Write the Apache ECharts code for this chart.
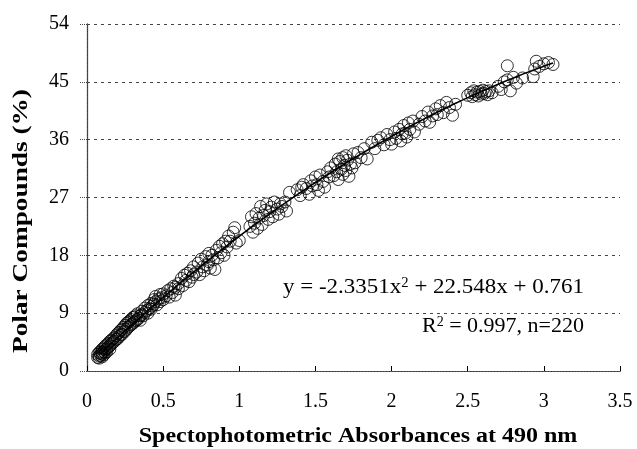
<!DOCTYPE html>
<html><head><meta charset="utf-8">
<script src="https://cdn.jsdelivr.net/npm/echarts@6/dist/echarts.min.js"></script>
<style>html,body{margin:0;padding:0;background:#fff}#c{width:637px;height:449px}</style>
</head><body><div id="c"></div>
<script>
const xTicks = [0, 0.5, 1, 1.5, 2, 2.5, 3, 3.5];
const yTicks = [0, 9, 18, 27, 36, 45, 54];
const xTitle = 'Spectophotometric Absorbances at 490 nm';
const yTitle = 'Polar Compounds (%)';
const eqParts = ['y = -2.3351x', '2', ' + 22.548x + 0.761'];
const r2Parts = ['R', '2', ' = 0.997, n=220'];

// observed samples [absorbance, polar compounds %]
const samples = [
[0.07,2.1],[0.07,2.6],[0.08,2.3],[0.08,2.9],[0.08,2.0],[0.09,2.4],[0.09,3.1],[0.09,2.7],[0.10,2.2],[0.10,2.9],
[0.10,3.4],[0.10,2.6],[0.11,3.0],[0.11,3.6],[0.11,2.5],[0.12,3.3],[0.12,2.8],[0.12,3.9],[0.13,3.5],[0.13,4.1],
[0.13,3.0],[0.14,3.7],[0.14,4.3],[0.15,3.9],[0.15,4.6],[0.15,3.4],[0.16,4.2],[0.16,4.8],[0.17,4.4],[0.17,5.0],
[0.18,4.6],[0.18,5.2],[0.19,4.9],[0.19,5.5],[0.20,5.0],[0.20,5.8],[0.21,5.3],[0.21,6.0],[0.22,5.6],[0.22,6.3],
[0.23,5.7],[0.23,6.5],[0.24,6.1],[0.24,6.8],[0.25,6.2],[0.25,7.1],[0.26,6.5],[0.26,7.4],[0.27,6.8],[0.27,7.6],
[0.28,7.0],[0.28,7.8],[0.29,7.2],[0.29,8.0],[0.30,7.4],[0.30,8.3],[0.31,7.6],[0.31,8.4],[0.32,7.8],[0.32,8.6],
[0.33,8.0],[0.33,8.9],[0.34,8.2],[0.35,8.6],[0.35,7.9],[0.36,8.8],[0.36,9.3],[0.37,8.6],[0.38,9.1],[0.38,9.8],
[0.39,9.4],[0.40,9.0],[0.40,10.2],[0.41,9.7],[0.42,10.5],[0.42,9.6],[0.43,10.1],[0.44,11.1],[0.44,10.4],[0.45,10.8],
[0.45,11.6],[0.46,10.3],[0.47,11.2],[0.48,11.9],[0.48,10.8],[0.49,11.4],[0.50,12.0],[0.50,11.1],
[0.52,11.7],[0.53,12.5],[0.54,11.5],[0.55,12.8],[0.56,12.2],[0.57,13.2],[0.58,11.8],[0.58,13.0],[0.60,13.6],[0.60,12.8],
[0.62,14.4],[0.63,13.3],[0.64,14.9],[0.65,14.1],[0.66,15.2],[0.67,13.9],[0.68,15.6],[0.69,14.6],[0.70,16.2],[0.70,15.0],
[0.72,15.4],[0.73,16.8],[0.74,15.0],[0.75,17.4],[0.76,16.2],[0.77,15.6],[0.78,17.8],[0.79,16.5],[0.80,18.3],[0.80,17.0],
[0.81,16.0],[0.82,18.0],[0.83,17.3],[0.84,15.8],[0.85,18.8],[0.86,17.6],[0.87,19.4],[0.88,18.4],[0.89,19.8],[0.90,18.0],
[0.91,20.2],[0.92,19.3],[0.93,21.0],[0.94,20.2],[0.96,21.6],[0.97,22.3],[0.98,19.9],[1.00,20.3],
[1.07,22.5],[1.08,24.0],[1.09,21.6],[1.10,23.0],[1.11,24.5],[1.12,22.2],[1.13,23.8],[1.14,25.6],[1.15,22.8],[1.16,24.2],
[1.17,25.0],[1.18,26.0],[1.19,23.6],[1.20,24.8],[1.21,25.5],[1.22,24.0],[1.23,26.3],[1.25,25.2],[1.26,24.4],[1.27,26.0],
[1.28,25.6],[1.30,26.3],[1.31,24.9],[1.33,27.8],
[1.38,28.2],[1.40,27.3],[1.41,28.6],[1.42,29.0],[1.44,28.4],[1.46,27.5],[1.47,29.6],[1.48,28.8],[1.50,30.2],[1.51,29.0],
[1.52,28.1],[1.53,30.5],[1.55,29.5],[1.56,28.6],[1.58,31.0],[1.59,30.2],[1.60,31.6],
[1.62,30.4],[1.63,32.2],[1.64,31.0],[1.65,33.0],[1.65,29.8],[1.66,32.6],[1.67,31.4],[1.68,33.2],[1.68,30.6],[1.69,32.0],
[1.70,33.5],[1.70,31.2],[1.71,32.8],[1.72,30.3],[1.73,32.2],[1.74,31.6],[1.75,33.8],[1.76,32.4],[1.78,34.0],[1.80,33.2],
[1.82,34.6],[1.84,33.0],
[1.87,35.6],[1.89,34.6],[1.91,35.9],[1.93,36.3],[1.95,35.2],[1.97,36.8],[1.99,36.0],[2.00,35.3],[2.02,37.2],[2.03,36.2],
[2.05,37.6],[2.06,35.8],[2.07,36.9],[2.08,38.2],[2.09,37.0],[2.10,36.4],[2.11,38.6],[2.12,37.6],[2.14,38.9],[2.15,37.2],
[2.18,38.4],[2.20,39.6],[2.22,38.9],[2.24,40.3],[2.25,38.7],[2.27,39.7],[2.29,40.8],[2.30,39.9],[2.32,41.3],[2.34,40.2],
[2.36,41.8],[2.38,41.0],[2.40,39.8],[2.42,41.5],
[2.50,42.9],[2.52,43.3],[2.53,42.7],[2.54,43.6],[2.55,43.0],[2.56,43.4],[2.57,42.8],[2.58,43.5],[2.59,43.1],[2.60,43.7],
[2.61,43.2],[2.62,43.5],[2.63,43.0],[2.64,43.6],[2.66,43.3],
[2.70,44.3],[2.72,43.8],[2.74,45.0],[2.76,47.5],[2.76,45.3],[2.78,43.6],[2.80,45.7],[2.82,44.8],[2.86,45.6],
[2.93,45.8],[2.94,47.0],[2.95,48.2],[2.97,47.4],[3.00,47.8],[3.03,48.0],[3.06,47.7]
];

// fitted trend curve as drawn
const trendX = [0.08,0.2,0.3,0.4,0.5,0.6,0.7,0.8,0.9,1.0,1.1,1.2,1.3,1.4,1.5,1.6,1.7,1.8,1.9,2.0,2.1,2.2,2.3,2.4,2.5,2.6,2.7,2.8,2.9,3.0,3.06];
const trendY = [2.55,5.18,7.32,9.41,11.45,13.45,15.40,17.30,19.16,20.97,22.74,24.46,26.13,27.75,29.34,30.85,32.35,33.78,35.17,36.52,37.82,39.07,40.27,41.42,42.54,43.60,44.63,45.60,46.55,47.43,47.93];

const font = '"Liberation Serif", "Times New Roman", serif';
const richStyle = {
  a: { fontFamily: font, fontSize: 22, color: '#000' },
  s: { fontFamily: font, fontSize: 14, color: '#000', verticalAlign: 'top', padding: [0, 0, 0, 0] }
};
const chart = echarts.init(document.getElementById('c'));
chart.setOption({
  animation: false,
  backgroundColor: '#fff',
  grid: { left: 87, top: 24, right: 17, bottom: 78, show: false },
  xAxis: [{
    type: 'value', min: xTicks[0], max: xTicks[xTicks.length-1], interval: 0.5,
    axisLine: { lineStyle: { color: '#000', width: 1.2 } },
    axisTick: { inside: true, length: 5, lineStyle: { color: '#000' } },
    axisLabel: { color: '#000', fontFamily: font, fontSize: 20, margin: 21 },
    splitLine: { show: false }
  }, {
    type: 'value', position: 'top', min: 0, max: 3.5, interval: 0.5,
    axisLine: { show: true, lineStyle: { color: '#555', width: 1, type: [2, 1] } },
    axisTick: { show: false }, axisLabel: { show: false }, splitLine: { show: false }
  }],
  yAxis: [{
    type: 'value', min: yTicks[0], max: yTicks[yTicks.length-1], interval: 9,
    axisLine: { show: true, lineStyle: { color: '#000', width: 1.2 } },
    axisTick: { show: true, length: 8, lineStyle: { color: '#444', type: 'dotted' } },
    axisLabel: { color: '#000', fontFamily: font, fontSize: 20, margin: 18 },
    splitLine: { show: true, lineStyle: { color: '#444', width: 1, type: [3, 4] } }
  }, {
    type: 'value', position: 'right', min: 0, max: 54, interval: 9,
    axisLine: { show: true, lineStyle: { color: '#555', width: 1, type: [1, 1] } },
    axisTick: { show: false }, axisLabel: { show: false }, splitLine: { show: false }
  }],
  series: [{
    type: 'scatter', data: samples, symbol: 'circle', symbolSize: 12,
    itemStyle: { color: 'rgba(255,255,255,0)', borderColor: '#000', borderWidth: 1 },
    z: 3
  }, {
    type: 'line', data: trendX.map((x, i) => [x, trendY[i]]), smooth: true,
    symbol: 'none', lineStyle: { color: '#000', width: 1.6 }, z: 4
  }],
  graphic: [{
    type: 'text', x: 358, y: 437, scaleX: 1.2,
    style: { text: xTitle, font: 'bold 20px ' + font, fill: '#000', align: 'center', verticalAlign: 'middle' }
  }, {
    type: 'text', x: 22, y: 221, rotation: Math.PI / 2, scaleX: 1.3,
    style: { text: yTitle, font: 'bold 21px ' + font, fill: '#000', align: 'center', verticalAlign: 'middle' }
  }, {
    type: 'text', x: 584, y: 287, scaleX: 1.045,
    style: { text: '{a|' + eqParts[0] + '}{s|' + eqParts[1] + '}{a|' + eqParts[2] + '}', rich: richStyle, align: 'right', verticalAlign: 'middle' }
  }, {
    type: 'text', x: 584, y: 326,
    style: { text: '{a|' + r2Parts[0] + '}{s|' + r2Parts[1] + '}{a|' + r2Parts[2] + '}', rich: richStyle, align: 'right', verticalAlign: 'middle' }
  }]
});
</script></body></html>
